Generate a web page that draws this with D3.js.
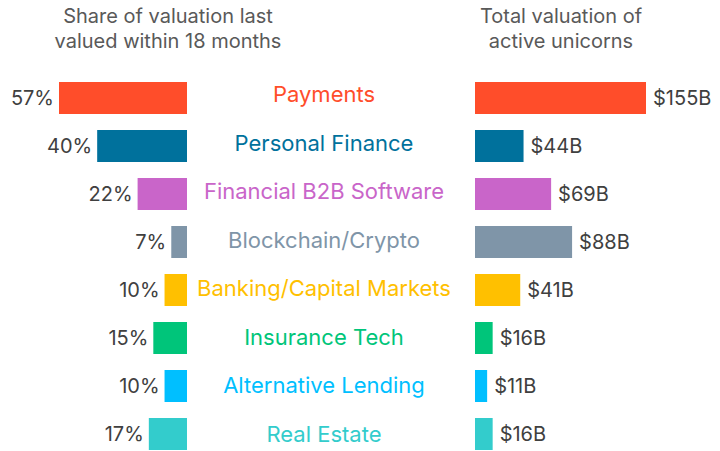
<!DOCTYPE html>
<html>
<head>
<meta charset="utf-8">
<script src="https://cdn.jsdelivr.net/npm/d3@7"></script>
<style>
    body { margin: 0; background: #fff; }
    svg text { font-family: Inter, "Open Sans", sans-serif; }
    .title { fill: #595959; font-size: 20px; }
    .value { fill: #404040; font-size: 20px; }
    .cat { font-size: 22px; }
</style>
</head>
<body>
<div id="chart"></div>
<script>
    var categories = ["Payments", "Personal Finance", "Financial B2B Software", "Blockchain/Crypto",
        "Banking/Capital Markets", "Insurance Tech", "Alternative Lending", "Real Estate"];
    var sharePct = [57, 40, 22, 7, 10, 15, 10, 17];
    var valuationB = [155, 44, 69, 88, 41, 16, 11, 16];
    var colors = ["#FF4D2A", "#00719C", "#C965C9", "#7F95A8", "#FFC000", "#00C57A", "#00BFFF", "#33CCCC"];
    var leftTitle = ["Share of valuation last", "valued within 18 months"];
    var rightTitle = ["Total valuation of", "active unicorns"];

    var width = 720, height = 451;

    var svg = d3.select("#chart")
        .append("svg")
        .attr("width", width)
        .attr("height", height);

    var y = d3.scaleBand()
        .domain(categories)
        .range([74, 458])
        .paddingInner(1 / 3)
        .paddingOuter(1 / 6);

    // middle labels sit on their own, slightly wider spacing
    var yLabel = d3.scalePoint()
        .domain(categories)
        .range([94.5, 434]);

    // left side grows leftwards from x = 187
    var xLeft = d3.scaleLinear().domain([0, 57]).range([187, 59]);
    // right side grows rightwards from x = 475
    var xRight = d3.scaleLinear().domain([0, 155]).range([475, 646]);

    var rows = categories.map(function (c, i) {
        return { cat: c, share: sharePct[i], val: valuationB[i], color: colors[i] };
    });

    // titles
    svg.append("text").attr("class", "title")
        .attr("text-anchor", "middle")
        .attr("x", 168).attr("y", 23)
        .selectAll("tspan").data(leftTitle).enter()
        .append("tspan")
        .attr("x", 168)
        .attr("dy", function (d, i) { return i ? 25 : 0; })
        .text(function (d) { return d; });

    svg.append("text").attr("class", "title")
        .attr("text-anchor", "middle")
        .attr("x", 561).attr("y", 23)
        .selectAll("tspan").data(rightTitle).enter()
        .append("tspan")
        .attr("x", 561)
        .attr("dy", function (d, i) { return i ? 25 : 0; })
        .text(function (d) { return d; });

    var row = svg.selectAll("g.row").data(rows).enter()
        .append("g")
        .attr("class", "row");

    // left bars
    row.append("rect")
        .attr("x", function (d) { return xLeft(d.share); })
        .attr("y", function (d) { return y(d.cat); })
        .attr("width", function (d) { return xLeft(0) - xLeft(d.share); })
        .attr("height", y.bandwidth())
        .attr("fill", function (d) { return d.color; });

    row.append("text").attr("class", "value")
        .attr("text-anchor", "end")
        .attr("x", function (d) { return xLeft(d.share) - 5; })
        .attr("y", function (d) { return y(d.cat) + y.bandwidth() / 2; })
        .attr("dy", "0.35em")
        .text(function (d) { return d.share + "%"; });

    // right bars
    row.append("rect")
        .attr("x", xRight(0))
        .attr("y", function (d) { return y(d.cat); })
        .attr("width", function (d) { return xRight(d.val) - xRight(0); })
        .attr("height", y.bandwidth())
        .attr("fill", function (d) { return d.color; });

    row.append("text").attr("class", "value")
        .attr("x", function (d) { return xRight(d.val) + 7; })
        .attr("y", function (d) { return y(d.cat) + y.bandwidth() / 2; })
        .attr("dy", "0.35em")
        .text(function (d) { return "$" + d.val + "B"; });

    // category labels in the middle
    row.append("text").attr("class", "cat")
        .attr("text-anchor", "middle")
        .attr("x", 324)
        .attr("y", function (d) { return yLabel(d.cat); })
        .attr("dy", "0.35em")
        .attr("fill", function (d) { return d.color; })
        .text(function (d) { return d.cat; });
</script>
</body>
</html>
